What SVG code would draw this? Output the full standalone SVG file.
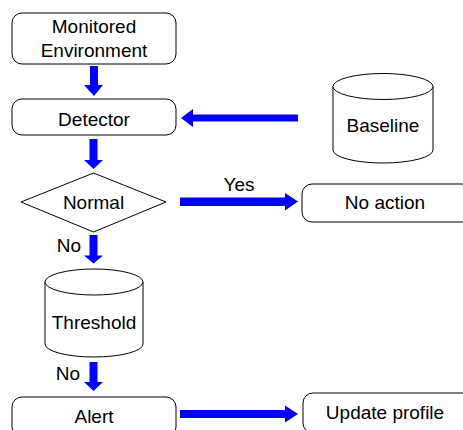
<svg xmlns="http://www.w3.org/2000/svg" width="463" height="430" viewBox="0 0 463 430">
  <style>
    .box { fill: #ffffff; stroke: #000000; stroke-width: 1; }
    .lbl { font-family: "Liberation Sans", Arial, sans-serif; font-size: 19px; fill: #000000; text-anchor: middle; }
    .arrow { fill: #0000ff; stroke: none; }
  </style>
  <rect width="463" height="430" fill="#ffffff"/>

  <!-- flow connectors: block arrows -->
  <g id="connectors">
    <!-- Monitored Environment to Detector -->
    <polygon class="arrow" points="90,66 98,66 98,85 103,85 94,96 84,85 90,85"/>
    <!-- Baseline to Detector -->
    <polygon class="arrow" points="298,114.5 298,121.5 193,121.5 193,127 181,118 193,109 193,114.5"/>
    <!-- Detector to Normal -->
    <polygon class="arrow" points="89.5,139 97.5,139 97.5,160 103,160 93.5,169 84,160 89.5,160"/>
    <!-- Normal to No action (Yes) -->
    <polygon class="arrow" points="180,197.5 285,197.5 285,193 298,201.5 285,210.5 285,206 180,206"/>
    <!-- Normal to Threshold (No) -->
    <polygon class="arrow" points="89.5,235 97.5,235 97.5,255.5 103,255.5 93.5,263.5 84,255.5 89.5,255.5"/>
    <!-- Threshold to Alert (No) -->
    <polygon class="arrow" points="89.5,362 97.5,362 97.5,382 103,382 93.5,391 84,382 89.5,382"/>
    <!-- Alert to Update profile -->
    <polygon class="arrow" points="180,410 285,410 285,405.5 298,414 285,422.5 285,418 180,418"/>
    <text class="lbl" x="239" y="190.5">Yes</text>
    <text class="lbl" x="69" y="251.5">No</text>
    <text class="lbl" x="68" y="379.5">No</text>
  </g>

  <g id="monitored-environment">
    <rect class="box" x="12" y="13" width="164" height="51" rx="10" ry="10"/>
    <text class="lbl" x="94" y="33">Monitored</text>
    <text class="lbl" x="94" y="57">Environment</text>
  </g>

  <g id="detector">
    <rect class="box" x="12" y="99" width="164" height="36" rx="10" ry="10"/>
    <text class="lbl" x="94" y="125.5">Detector</text>
  </g>

  <g id="baseline">
    <path class="box" d="M333,86.5 L333,150 A50,13 0 0 0 433,150 L433,86.5"/>
    <ellipse class="box" cx="383" cy="86.5" rx="50" ry="13"/>
    <text class="lbl" x="383" y="131.5">Baseline</text>
  </g>

  <g id="normal">
    <polygon class="box" points="93.5,173 166,202 93.5,232 21,202"/>
    <text class="lbl" x="93.5" y="209">Normal</text>
  </g>

  <g id="no-action">
    <rect class="box" x="302" y="184" width="170" height="38" rx="10" ry="10"/>
    <text class="lbl" x="385" y="209">No action</text>
  </g>

  <g id="threshold">
    <path class="box" d="M45,282 L45,344 A49,13 0 0 0 143,344 L143,282"/>
    <ellipse class="box" cx="94" cy="282" rx="49" ry="13"/>
    <text class="lbl" x="94" y="329">Threshold</text>
  </g>

  <g id="alert">
    <rect class="box" x="12" y="397" width="164" height="40" rx="10" ry="10"/>
    <text class="lbl" x="94" y="422.5">Alert</text>
  </g>

  <g id="update-profile">
    <rect class="box" x="303" y="393" width="170" height="40" rx="10" ry="10"/>
    <text class="lbl" x="385" y="418.5">Update profile</text>
  </g>
</svg>
